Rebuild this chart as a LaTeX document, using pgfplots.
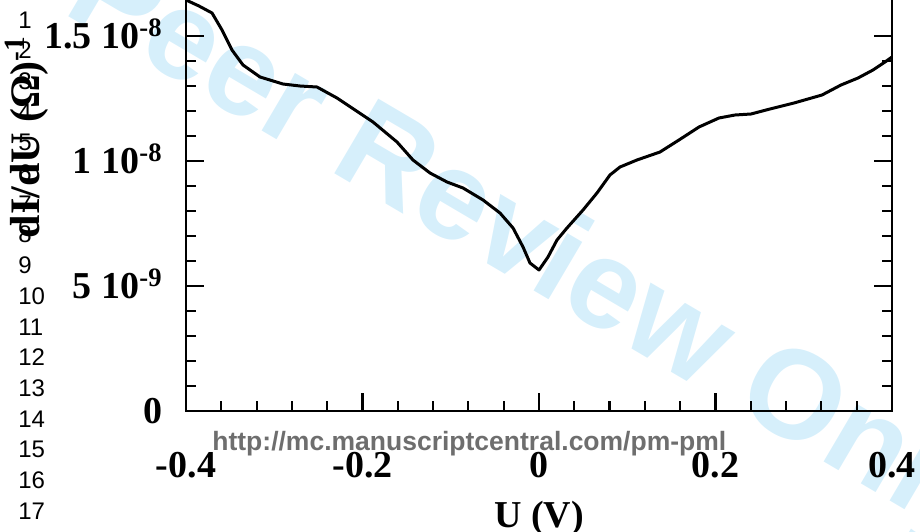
\documentclass[border=0pt]{standalone}
\usepackage{fontspec}
\setmainfont{Liberation Serif}
\newfontfamily\arialfont{Liberation Sans}
\usepackage{pgfplots}
\usepackage{pgfplotstable}
\pgfplotsset{compat=1.18}
\definecolor{wmblue}{RGB}{214,239,251}
\definecolor{urlgray}{RGB}{110,110,110}
\pgfplotstableread{
x y
-0.4000 16.44
-0.3853 16.20
-0.3705 15.92
-0.3592 15.24
-0.3479 14.44
-0.3354 13.84
-0.3161 13.36
-0.2901 13.08
-0.2708 13.00
-0.2516 12.96
-0.2289 12.52
-0.2085 12.04
-0.1881 11.56
-0.1609 10.76
-0.1428 10.04
-0.1235 9.52
-0.1042 9.16
-0.0861 8.92
-0.0634 8.44
-0.0442 7.92
-0.0294 7.32
-0.0181 6.56
-0.0102 5.92
0.0000 5.64
0.0102 6.16
0.0204 6.84
0.0317 7.32
0.0499 8.04
0.0657 8.72
0.0804 9.44
0.0918 9.76
0.1110 10.04
0.1371 10.36
0.1586 10.84
0.1813 11.36
0.2039 11.72
0.2221 11.84
0.2402 11.88
0.2617 12.08
0.2889 12.32
0.3207 12.64
0.3422 13.04
0.3615 13.32
0.3785 13.64
0.3921 13.96
0.4000 14.16
}\dIdU
\begin{document}
\begin{tikzpicture}
\node[rotate=-30.5, anchor=base, text=wmblue, inner sep=0pt,
      font=\arialfont\bfseries\fontsize{63}{76}\selectfont]
      at (207.5pt,-110.5pt) {For Peer Review Only};
\begin{axis}[
  at={(93pt,-205.5pt)}, anchor=south west,
  scale only axis, width=353pt, height=250pt,
  xmin=-0.4, xmax=0.4, ymin=0, ymax=20,
  xtick={-0.4,-0.2,0,0.2,0.4},
  xticklabels={-0.4,-0.2,0,0.2,0.4},
  minor x tick num=4,
  ytick={0,5,10,15},
  yticklabels={0,{5 10\textsuperscript{-9}},{1 10\textsuperscript{-8}},{1.5 10\textsuperscript{-8}}},
  minor y tick num=4,
  tick align=inside,
  major tick length=9pt, minor tick length=5pt,
  axis line style={line width=1.4pt},
  tick style={black, line width=1.1pt},
  ticklabel style={font=\fontsize{19}{22}\selectfont\bfseries, inner sep=0pt},
  xticklabel style={anchor=base, yshift=-33pt},
  yticklabel style={anchor=base east, xshift=-11.5pt, yshift=-6.4pt},
  xlabel={U (V)},
  xlabel style={at={(axis description cs:0.5,-0.232)}, anchor=base, inner sep=0pt,
                font=\fontsize{19}{22}\selectfont\bfseries},
  ylabel={dI/dU (Ω)\textsuperscript{-1}},
  ylabel style={at={(axis description cs:-0.2068,0.548)}, anchor=base, inner sep=0pt,
                font=\fontsize{21}{25}\selectfont\bfseries},
]
\addplot[black, line width=1.5pt, line join=round, mark=none] table[x=x, y=y] {\dIdU};
\end{axis}
\foreach \n in {1,...,17} {
  \node[anchor=base west, inner sep=0pt, font=\arialfont\fontsize{12}{14}\selectfont]
    at (9pt, {-14pt-(\n-1)*15.35pt}) {\n};
}
\node[anchor=base west, inner sep=0pt, text=urlgray,
      font=\arialfont\bfseries\fontsize{13.25}{16}\selectfont]
      at (106pt,-225pt) {http://mc.manuscriptcentral.com/pm-pml};
\pgfresetboundingbox
\path[use as bounding box] (0pt,0pt) rectangle (460pt,-265.5pt);
\end{tikzpicture}
\end{document}
